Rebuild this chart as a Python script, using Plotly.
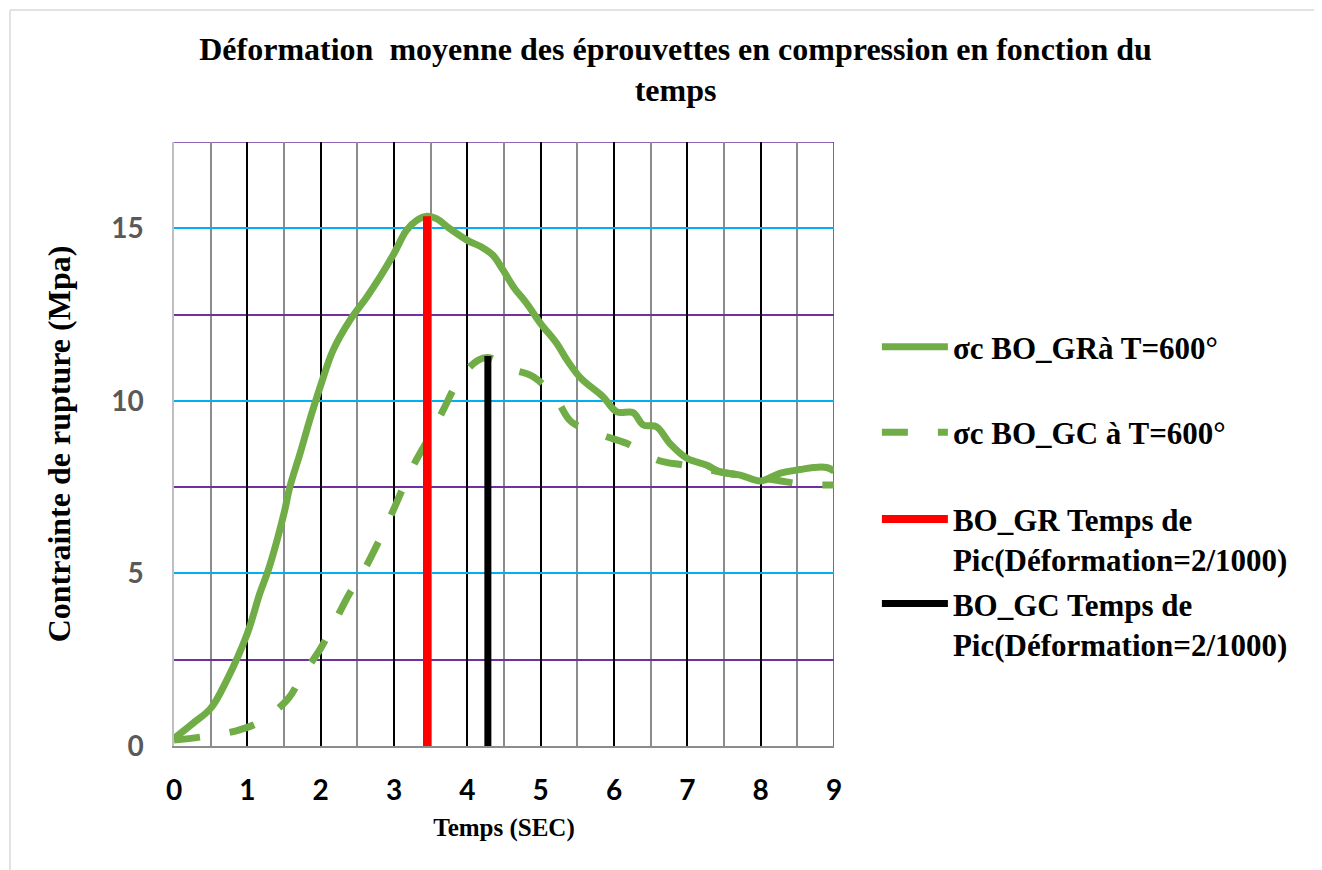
import plotly.graph_objects as go

# BO_GR solid curve (time in s, stress in MPa)
temps_gr = [0, 0.26, 0.5, 0.72, 1.0, 1.17, 1.3, 1.5, 1.58, 1.72, 1.85, 2.0, 2.17,
            2.4, 2.63, 2.81, 3.0, 3.17, 3.31, 3.45, 3.58, 3.76, 4.0, 4.2, 4.35,
            4.49, 4.63, 4.81, 5.0, 5.22, 5.36, 5.55, 5.85, 6.04, 6.26, 6.40,
            6.58, 6.76, 7.0, 7.26, 7.45, 7.72, 8.0, 8.26, 8.54, 8.72, 8.9, 9.0]
contrainte_gr = [0.22, 0.66, 1.09, 1.91, 3.26, 4.42, 5.19, 6.74, 7.51, 8.48, 9.44,
                 10.45, 11.47, 12.34, 13.01, 13.59, 14.27, 14.94, 15.23, 15.35,
                 15.28, 14.99, 14.65, 14.45, 14.22, 13.78, 13.30, 12.82, 12.24,
                 11.66, 11.18, 10.65, 10.12, 9.68, 9.66, 9.30, 9.25, 8.77, 8.33,
                 8.14, 7.94, 7.85, 7.68, 7.9, 8.01, 8.07, 8.07, 7.97]

# BO_GC dashed curve
temps_gc = [0, 0.4, 0.85, 1.2, 1.56, 1.74, 2.0, 2.17, 2.38, 2.58, 2.79, 2.95, 3.13,
            3.29, 3.51, 3.67, 3.9, 4.15, 4.3, 4.56, 4.9, 5.22, 5.42, 5.85, 6.17,
            6.6, 6.95, 7.3, 7.7, 8.22, 8.56, 9.0]
contrainte_gc = [0.17, 0.27, 0.44, 0.73, 1.38, 2.01, 2.83, 3.5, 4.37, 5.05, 5.92,
                 6.64, 7.51, 8.23, 9.06, 9.73, 10.65, 11.18, 11.25, 10.94, 10.7,
                 10.02, 9.39, 9.0, 8.77, 8.28, 8.14, 8.0, 7.85, 7.7, 7.59, 7.56]

# peak time markers
pic_gr_x = [3.45, 3.45]
pic_gr_y = [0, 15.35]
pic_gc_x = [4.28, 4.28]
pic_gc_y = [0, 11.3]

x_max = 9
y_max = 17.5

vert = "#70AD47"
serif = "Liberation Serif"
leg_font = dict(family=serif, size=31, color="black", weight="bold")
bord = dict(color="#D9D9D9", width=1.5)

fig = go.Figure()
fig.add_trace(go.Scatter(
    x=temps_gr, y=contrainte_gr, mode="lines", line_shape="spline",
    line=dict(color=vert, width=7), name="σc BO_GRà T=600°",
    legend="legend", legendgroup="gr",
))
fig.add_trace(go.Scatter(
    x=temps_gc, y=contrainte_gc, mode="lines", line_shape="spline",
    line=dict(color=vert, width=7, dash="26px,30px"),
    name="σc BO_GC à T=600°", legend="legend", legendgroup="gc",
))
fig.add_trace(go.Scatter(
    x=pic_gr_x, y=pic_gr_y, mode="lines", line=dict(color="#FF0000", width=8),
    name="BO_GR Temps de<br>Pic(Déformation=2/1000)",
    legend="legend2", legendgroup="pic_gr",
))
fig.add_trace(go.Scatter(
    x=pic_gc_x, y=pic_gc_y, mode="lines", line=dict(color="#000000", width=7),
    name="BO_GC Temps de<br>Pic(Déformation=2/1000)",
    legend="legend2", legendgroup="pic_gc",
))

fig.update_layout(
    width=1314, height=862,
    margin=dict(l=166, r=488, t=134, b=124),
    paper_bgcolor="white", plot_bgcolor="white",
    title=dict(
        text="Déformation  moyenne des éprouvettes en compression en fonction du<br>temps",
        x=0.508, xanchor="center", y=0.94, yanchor="top",
        font=dict(family=serif, size=32, color="black", weight="bold"),
    ),
    legend=dict(
        x=1.065, xanchor="left", y=0.705, yanchor="top", valign="top",
        font=leg_font, itemwidth=66,
        tracegroupgap=42, traceorder="grouped", bgcolor="rgba(0,0,0,0)",
    ),
    legend2=dict(
        x=1.065, xanchor="left", y=0.42, yanchor="top", valign="top",
        font=leg_font, itemwidth=66,
        tracegroupgap=1, traceorder="grouped", bgcolor="rgba(0,0,0,0)",
    ),
    shapes=[
        # chart area border (top and left)
        dict(type="line", xref="paper", yref="paper", x0=-0.2485, x1=1.75,
             y0=1.2185, y1=1.2185, line=bord),
        dict(type="line", xref="paper", yref="paper", x0=-0.2485, x1=-0.2485,
             y0=-0.22, y1=1.2185, line=bord),
        # edge gridlines that plotly skips
        dict(type="line", xref="x", yref="y", x0=0, x1=x_max, y0=y_max, y1=y_max,
             line=dict(color="#7030A0", width=1.5), layer="below"),
        dict(type="line", xref="x", yref="y", x0=x_max, x1=x_max, y0=0, y1=y_max,
             line=dict(color="#404040", width=1.5), layer="below"),
    ],
)

fig.update_xaxes(
    range=[0, x_max], tick0=0, dtick=1, showgrid=True, gridcolor="#000000", gridwidth=1.5,
    minor=dict(dtick=0.5, showgrid=True, gridcolor="#8C8C8C", gridwidth=1.5),
    showline=True, linecolor="#8C8C8C", linewidth=2, zeroline=False,
    tickfont=dict(family="Lato", size=28, color="black", weight="bold"),
    ticks="", ticklabelstandoff=18,
    title=dict(text="Temps (SEC)",
               font=dict(family=serif, size=25, color="black", weight="bold"),
               standoff=14),
)
fig.update_yaxes(
    range=[0, y_max], tick0=0, dtick=5, showgrid=True, gridcolor="#00B0F0", gridwidth=1.5,
    minor=dict(dtick=2.5, showgrid=True, gridcolor="#7030A0", gridwidth=1.5),
    zeroline=False, showline=True, linecolor="#BFBFBF", linewidth=1.5,
    tickfont=dict(family="Lato", size=28, color="#595959", weight="bold"),
    ticks="", ticklabelstandoff=23,
    title=dict(text="Contrainte de rupture (Mpa)",
               font=dict(family=serif, size=32, color="black", weight="bold"),
               standoff=31),
)

fig.write_html("out.html")
